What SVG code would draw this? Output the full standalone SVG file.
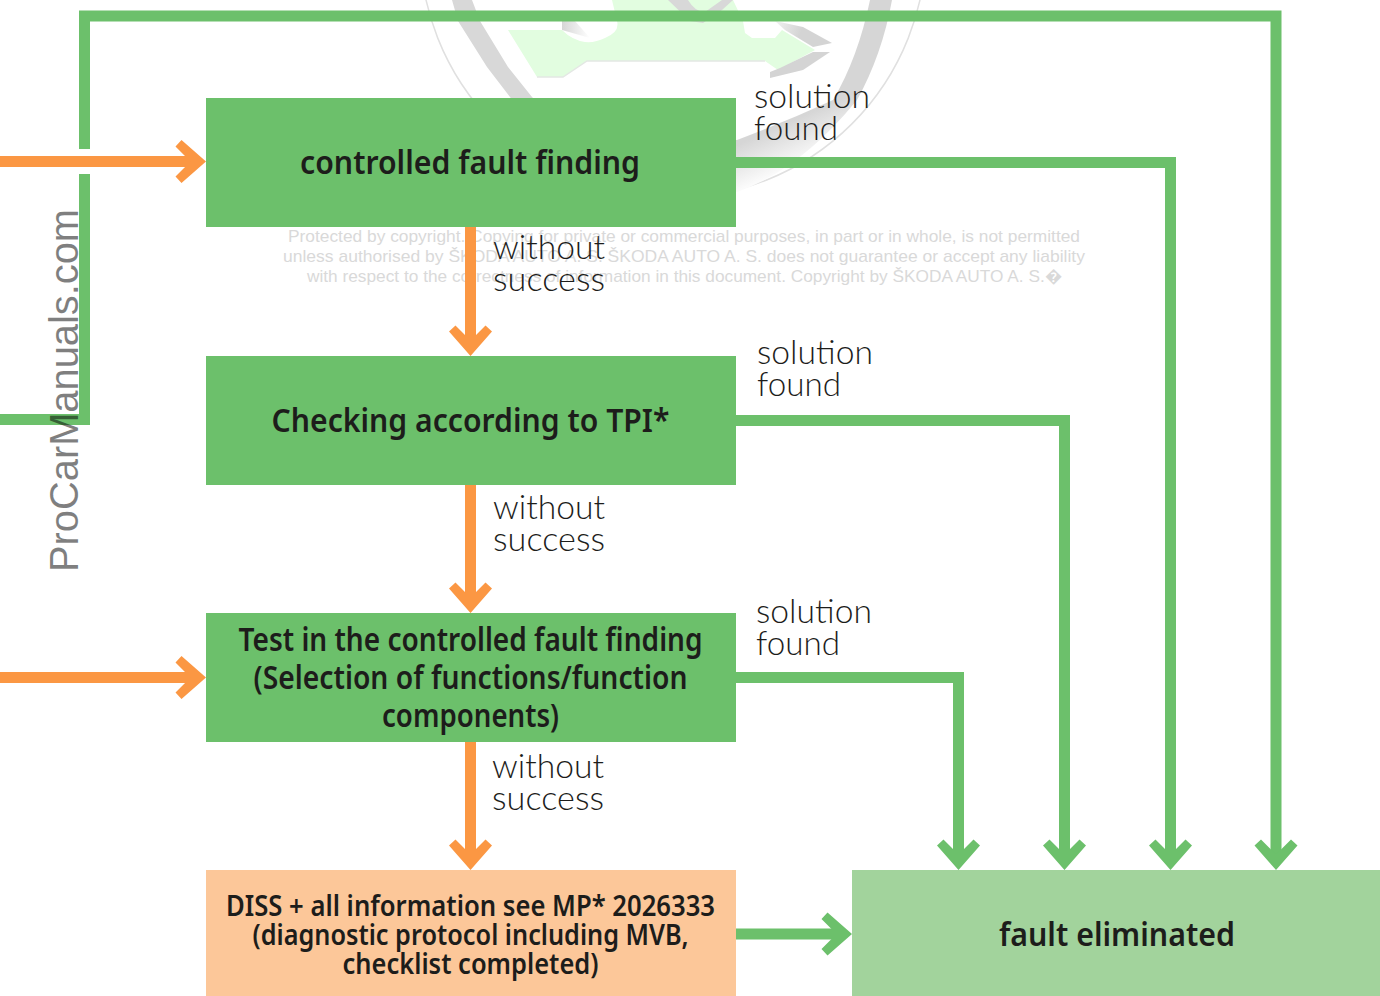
<svg xmlns="http://www.w3.org/2000/svg" width="1380" height="996" viewBox="0 0 1380 996">
<style>
.g{fill:none;stroke:#6cc06b;stroke-width:11}
.o{fill:none;stroke:#fb9743;stroke-width:11}
.b{font-family:"Noto Sans","Liberation Sans",sans-serif;font-weight:600;font-size:32px;fill:#1d1d1b;text-anchor:middle}
.s{font-size:28px}
.l{font-family:"Lato","Open Sans",sans-serif;font-weight:300;font-size:34px;fill:#1d1d1b}
.c{font-family:"Liberation Sans",Arial,sans-serif;font-size:17px;fill:#d9d9d9}
</style>
<defs>
<linearGradient id="rg" gradientUnits="userSpaceOnUse" x1="737" y1="145" x2="756" y2="188"><stop offset="0" stop-color="#d6d6d6"/><stop offset=".9" stop-color="#fbfbfb"/></linearGradient>
<linearGradient id="wl" gradientUnits="userSpaceOnUse" x1="562" y1="30" x2="590" y2="30"><stop offset="0" stop-color="#d6d6d6"/><stop offset="1" stop-color="#fff"/></linearGradient>
<linearGradient id="wr" gradientUnits="userSpaceOnUse" x1="770" y1="25" x2="800" y2="35"><stop offset="0" stop-color="#f4f4f4"/><stop offset="1" stop-color="#d4d4d4"/></linearGradient>
<path id="ar" d="M0 0L-24.500-21.500L-30.500-15L-15.500 0L-30.500 15L-24.500 21.500Z"/>
</defs>
<rect width="1380" height="996" fill="#fff"/>
<g id="logo">
<circle cx="673" cy="-55" r="253" fill="none" stroke="#e0e0e0" stroke-width="1.500"/>
<path d="M452 0L458 21L487 67L510 97L520 110H545L532 97L508 67L480 21L472 0Z" fill="#d8d8d8"/>
<path d="M870 0Q858 58 833 100Q785 122 737 140H730V192H737Q800 170 857 100Q882 55 892 0Z" fill="url(#rg)"/>
<path d="M508 30H562Q572 40 585 42Q595 43 605 38Q620 32 617 21L612 0H733L743 21L745 33L752 38H775L782 30L815 50L778 70L765 61H587L563 77H537Z" fill="#e2fde0"/>
<path d="M537 77H563L587 61H765" fill="none" stroke="#e4e8e4" stroke-width="1.500"/>
<path d="M562 21H575L590 38L562 30Z" fill="url(#wl)"/>
<path d="M775 21L803 27L832 43L813 47L785 30Z" fill="url(#wr)"/>
<path d="M830 52H813L780 68L770 72V78L803 70Z" fill="#d4d4d4"/>
<path d="M668 0L690 21L703 23L722 10L733 0H722L705 12Q695 12 688 0Z" fill="#d8d8d8"/>
</g>
<text class="c" x="288" y="242" textLength="792" lengthAdjust="spacingAndGlyphs">Protected by copyright. Copying for private or commercial purposes, in part or in whole, is not permitted</text>
<text class="c" x="283" y="262" textLength="802" lengthAdjust="spacingAndGlyphs">unless authorised by ŠKODA AUTO A. S. ŠKODA AUTO A. S. does not guarantee or accept any liability</text>
<text class="c" x="307" y="282" textLength="755" lengthAdjust="spacingAndGlyphs">with respect to the correctness of information in this document. Copyright by ŠKODA AUTO A. S.�</text>
<g id="connectors">
<path class="g" d="M0 419.500H84.500V174M84.500 149V16H1276V860"/>
<path class="g" d="M736 162.500H1170.500V860"/>
<path class="g" d="M736 420.500H1064.500V860"/>
<path class="g" d="M736 677.500H958.500V860"/>
<path class="g" d="M736 934H840"/>
<path class="o" d="M0 161.500H195"/>
<path class="o" d="M0 677.500H195"/>
<path class="o" d="M470.500 227V345"/>
<path class="o" d="M470.500 485V602"/>
<path class="o" d="M470.500 742V859"/>
<g fill="#6cc06b">
<use href="#ar" transform="translate(1276 870) rotate(90)"/>
<use href="#ar" transform="translate(1170.500 870) rotate(90)"/>
<use href="#ar" transform="translate(1064.500 870) rotate(90)"/>
<use href="#ar" transform="translate(958.500 870) rotate(90)"/>
<use href="#ar" transform="translate(852 934)"/>
</g>
<g fill="#fb9743">
<use href="#ar" transform="translate(206 161.500)"/>
<use href="#ar" transform="translate(206 677.500)"/>
<use href="#ar" transform="translate(470.500 356) rotate(90)"/>
<use href="#ar" transform="translate(470.500 613) rotate(90)"/>
<use href="#ar" transform="translate(470.500 870) rotate(90)"/>
</g>
</g>
<g id="node1"><rect x="206" y="98" width="530" height="129" fill="#6cc06b"/>
<text class="b" x="470" y="174" textLength="340" lengthAdjust="spacingAndGlyphs">controlled fault finding</text></g>
<g id="node2"><rect x="206" y="356" width="530" height="129" fill="#6cc06b"/>
<text class="b" x="470.500" y="432" textLength="398" lengthAdjust="spacingAndGlyphs">Checking according to TPI*</text></g>
<g id="node3"><rect x="206" y="613" width="530" height="129" fill="#6cc06b"/>
<text class="b" x="470.500" y="651" textLength="464" lengthAdjust="spacingAndGlyphs">Test in the controlled fault finding</text>
<text class="b" x="470.500" y="689" textLength="434" lengthAdjust="spacingAndGlyphs">(Selection of functions/function</text>
<text class="b" x="470.500" y="727" textLength="177" lengthAdjust="spacingAndGlyphs">components)</text></g>
<g id="node4"><rect x="206" y="870" width="530" height="126" fill="#fcc799"/>
<text class="b s" x="470.500" y="916" textLength="489" lengthAdjust="spacingAndGlyphs">DISS + all information see MP* 2026333</text>
<text class="b s" x="470.500" y="945" textLength="436" lengthAdjust="spacingAndGlyphs">(diagnostic protocol including MVB,</text>
<text class="b s" x="470.500" y="974" textLength="256" lengthAdjust="spacingAndGlyphs">checklist completed)</text></g>
<g id="node5"><rect x="852" y="870" width="528" height="126" fill="#a2d39c"/>
<text class="b" x="1117" y="946" textLength="236" lengthAdjust="spacingAndGlyphs">fault eliminated</text></g>
<g id="labels">
<text class="l" x="754" y="108" textLength="116" lengthAdjust="spacingAndGlyphs">solution</text>
<text class="l" x="754" y="140" textLength="84" lengthAdjust="spacingAndGlyphs">found</text>
<text class="l" x="757" y="364" textLength="116" lengthAdjust="spacingAndGlyphs">solution</text>
<text class="l" x="757" y="396" textLength="84" lengthAdjust="spacingAndGlyphs">found</text>
<text class="l" x="756" y="623" textLength="116" lengthAdjust="spacingAndGlyphs">solution</text>
<text class="l" x="756" y="655" textLength="84" lengthAdjust="spacingAndGlyphs">found</text>
<text class="l" x="493" y="259" textLength="112" lengthAdjust="spacingAndGlyphs">without</text>
<text class="l" x="493" y="291" textLength="112" lengthAdjust="spacingAndGlyphs">success</text>
<text class="l" x="493" y="519" textLength="112" lengthAdjust="spacingAndGlyphs">without</text>
<text class="l" x="493" y="551" textLength="112" lengthAdjust="spacingAndGlyphs">success</text>
<text class="l" x="492" y="778" textLength="112" lengthAdjust="spacingAndGlyphs">without</text>
<text class="l" x="492" y="810" textLength="112" lengthAdjust="spacingAndGlyphs">success</text>
</g>
<text x="78" y="572" transform="rotate(-90 78 572)" font-family="Liberation Sans,Arial,sans-serif" font-size="40" fill="#000" fill-opacity=".5" textLength="363" lengthAdjust="spacingAndGlyphs">ProCarManuals.com</text>
</svg>
